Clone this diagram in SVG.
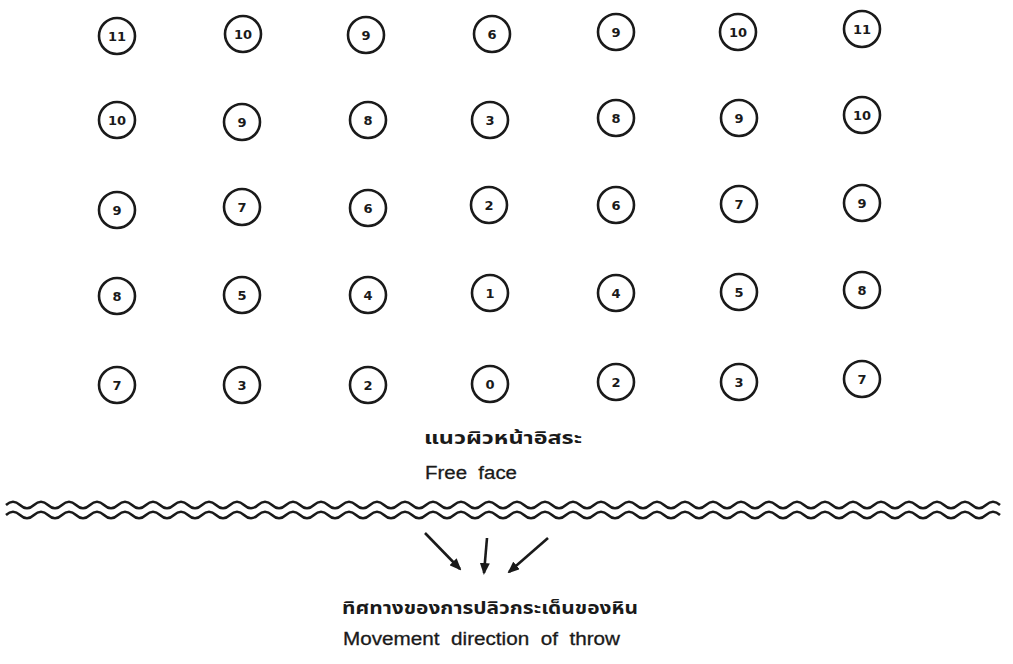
<svg xmlns="http://www.w3.org/2000/svg" width="1013" height="664" viewBox="0 0 1013 664">
<style>
.hole circle{fill:none;stroke:#1a1a1a;stroke-width:2.6}
.hole text{font-family:"DejaVu Sans",sans-serif;font-weight:bold;font-size:13px;fill:#1a1a1a;text-anchor:middle;dominant-baseline:central}
.wave{fill:none;stroke:#1a1a1a;stroke-width:2.5}
.arrow{stroke:#1a1a1a;stroke-width:2.6;fill:none;marker-end:url(#ah)}
.th{font-family:"Noto Sans Thai","Loma","Garuda","Tlwg Typo","Noto Sans","DejaVu Sans",sans-serif;font-size:18px;font-weight:bold;fill:#1a1a1a}
.en{font-family:"Liberation Sans",Arial,sans-serif;font-size:18px;fill:#1a1a1a;stroke:#1a1a1a;stroke-width:0.3}
</style>
<defs>
<marker id="ah" markerWidth="12" markerHeight="10" refX="10" refY="5" orient="auto" markerUnits="userSpaceOnUse">
<path d="M0,0 L12,5 L0,10 Z" fill="#1a1a1a"/>
</marker>
<path id="wv" d="M6,0 q7,-6.5 14,0 t14,0 t14,0 t14,0 t14,0 t14,0 t14,0 t14,0 t14,0 t14,0 t14,0 t14,0 t14,0 t14,0 t14,0 t14,0 t14,0 t14,0 t14,0 t14,0 t14,0 t14,0 t14,0 t14,0 t14,0 t14,0 t14,0 t14,0 t14,0 t14,0 t14,0 t14,0 t14,0 t14,0 t14,0 t14,0 t14,0 t14,0 t14,0 t14,0 t14,0 t14,0 t14,0 t14,0 t14,0 t14,0 t14,0 t14,0 t14,0 t14,0 t14,0 t14,0 t14,0 t14,0 t14,0 t14,0 t14,0 t14,0 t14,0 t14,0 t14,0 t14,0 t14,0 t14,0 t14,0 t14,0 t14,0 t14,0 t14,0 t14,0 t14,0"/>
</defs>
<rect width="1013" height="664" fill="#ffffff"/>
<g id="holes" class="hole">
<g id="h1-1"><circle cx="117" cy="36" r="18"/><text x="117" y="36">11</text></g>
<g id="h1-2"><circle cx="243" cy="34" r="18"/><text x="243" y="34">10</text></g>
<g id="h1-3"><circle cx="366" cy="35" r="18"/><text x="366" y="35">9</text></g>
<g id="h1-4"><circle cx="492" cy="34" r="18"/><text x="492" y="34">6</text></g>
<g id="h1-5"><circle cx="616" cy="32" r="18"/><text x="616" y="32">9</text></g>
<g id="h1-6"><circle cx="738" cy="32" r="18"/><text x="738" y="32">10</text></g>
<g id="h1-7"><circle cx="862" cy="29" r="18"/><text x="862" y="29">11</text></g>
<g id="h2-1"><circle cx="117" cy="120" r="18"/><text x="117" y="120">10</text></g>
<g id="h2-2"><circle cx="242" cy="122" r="18"/><text x="242" y="122">9</text></g>
<g id="h2-3"><circle cx="368" cy="120" r="18"/><text x="368" y="120">8</text></g>
<g id="h2-4"><circle cx="490" cy="120" r="18"/><text x="490" y="120">3</text></g>
<g id="h2-5"><circle cx="616" cy="118" r="18"/><text x="616" y="118">8</text></g>
<g id="h2-6"><circle cx="739" cy="118" r="18"/><text x="739" y="118">9</text></g>
<g id="h2-7"><circle cx="862" cy="115" r="18"/><text x="862" y="115">10</text></g>
<g id="h3-1"><circle cx="117" cy="210" r="18"/><text x="117" y="210">9</text></g>
<g id="h3-2"><circle cx="242" cy="207" r="18"/><text x="242" y="207">7</text></g>
<g id="h3-3"><circle cx="368" cy="208" r="18"/><text x="368" y="208">6</text></g>
<g id="h3-4"><circle cx="489" cy="205" r="18"/><text x="489" y="205">2</text></g>
<g id="h3-5"><circle cx="616" cy="205" r="18"/><text x="616" y="205">6</text></g>
<g id="h3-6"><circle cx="739" cy="204" r="18"/><text x="739" y="204">7</text></g>
<g id="h3-7"><circle cx="862" cy="203" r="18"/><text x="862" y="203">9</text></g>
<g id="h4-1"><circle cx="117" cy="296" r="18"/><text x="117" y="296">8</text></g>
<g id="h4-2"><circle cx="242" cy="295" r="18"/><text x="242" y="295">5</text></g>
<g id="h4-3"><circle cx="368" cy="295" r="18"/><text x="368" y="295">4</text></g>
<g id="h4-4"><circle cx="490" cy="293" r="18"/><text x="490" y="293">1</text></g>
<g id="h4-5"><circle cx="616" cy="293" r="18"/><text x="616" y="293">4</text></g>
<g id="h4-6"><circle cx="739" cy="292" r="18"/><text x="739" y="292">5</text></g>
<g id="h4-7"><circle cx="862" cy="290" r="18"/><text x="862" y="290">8</text></g>
<g id="h5-1"><circle cx="117" cy="385" r="18"/><text x="117" y="385">7</text></g>
<g id="h5-2"><circle cx="242" cy="385" r="18"/><text x="242" y="385">3</text></g>
<g id="h5-3"><circle cx="368" cy="385" r="18"/><text x="368" y="385">2</text></g>
<g id="h5-4"><circle cx="490" cy="384" r="18"/><text x="490" y="384">0</text></g>
<g id="h5-5"><circle cx="616" cy="382" r="18"/><text x="616" y="382">2</text></g>
<g id="h5-6"><circle cx="739" cy="382" r="18"/><text x="739" y="382">3</text></g>
<g id="h5-7"><circle cx="862" cy="379" r="18"/><text x="862" y="379">7</text></g>
</g>
<g id="free-face">
<use href="#wv" class="wave" transform="translate(0,505)"/>
<use href="#wv" class="wave" transform="translate(0,515)"/>
<text class="th" x="424" y="444" textLength="158" lengthAdjust="spacingAndGlyphs">แนวผิวหน้าอิสระ</text>
<text class="en" x="425" y="479" xml:space="preserve" textLength="92" lengthAdjust="spacingAndGlyphs">Free  face</text>
</g>
<g id="connectors">
<line class="arrow" x1="425" y1="533" x2="460" y2="569"/>
<line class="arrow" x1="487" y1="538" x2="484" y2="573"/>
<line class="arrow" x1="548" y1="538" x2="509" y2="572"/>
</g>
<g id="throw-label">
<text class="th" x="342" y="614" textLength="296" lengthAdjust="spacingAndGlyphs">ทิศทางของการปลิวกระเด็นของหิน</text>
<text class="en" x="343" y="645" xml:space="preserve" textLength="277" lengthAdjust="spacingAndGlyphs">Movement  direction  of  throw</text>
</g>
</svg>
